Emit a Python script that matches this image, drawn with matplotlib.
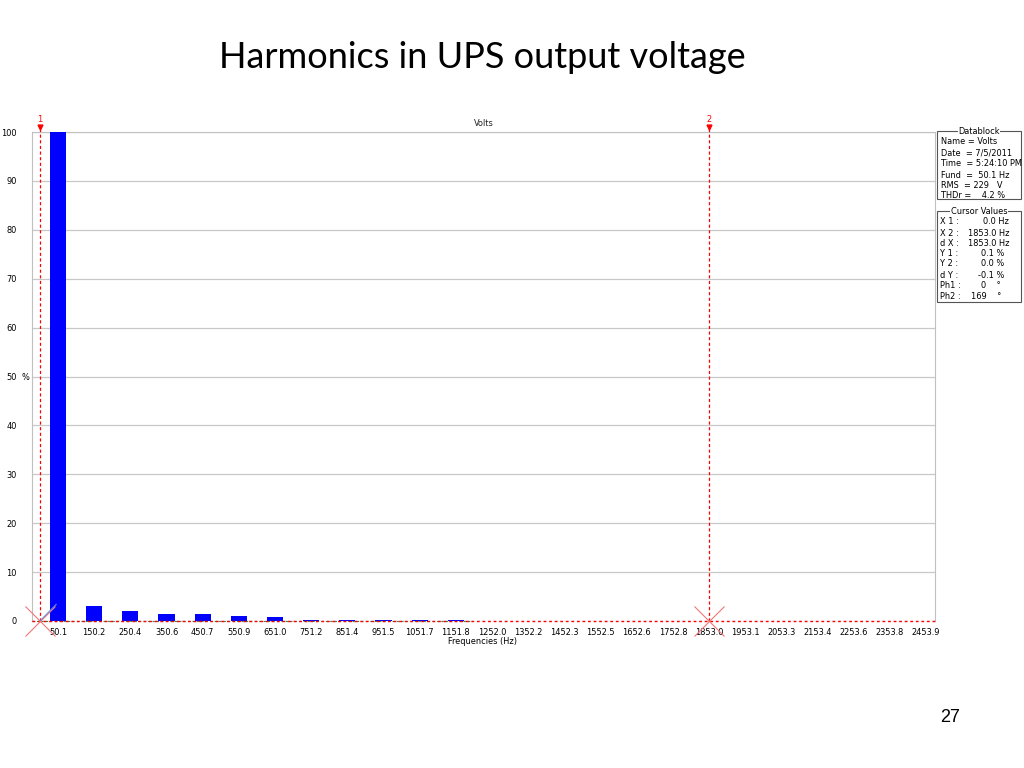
import numpy as np
import matplotlib
matplotlib.use("Agg")
import matplotlib.pyplot as plt
from matplotlib import font_manager

# spectrum (percent of fundamental)
harm_freq = [50.1, 150.2, 250.4, 350.6, 450.7, 550.9, 651.0, 751.2, 851.4, 951.5, 1051.7, 1151.8]
harm_pct = [100.0, 3.0, 2.0, 1.5, 1.4, 1.0, 0.8, 0.3, 0.3, 0.15, 0.15, 0.12]

xtick_labels = ["50.1", "150.2", "250.4", "350.6", "450.7", "550.9", "651.0", "751.2",
                "851.4", "951.5", "1051.7", "1151.8", "1252.0", "1352.2", "1452.3",
                "1552.5", "1652.6", "1752.8", "1853.0", "1953.1", "2053.3", "2153.4",
                "2253.6", "2353.8", "2453.9"]
ytick_vals = [0, 10, 20, 30, 40, 50, 60, 70, 80, 90, 100]
ytick_labels = ["0", "10", "20", "30", "40", "50", "60", "70", "80", "90", "100"]
y_unit = "%"   # shown next to the 50 label

cursor_freq = [0.0, 1853.0]
cursor_names = ["1", "2"]

datablock = ["Name = Volts", "Date  = 7/5/2011", "Time  = 5:24:10 PM",
             "Fund  =  50.1 Hz", "RMS  = 229   V", "THDr =    4.2 %"]
cursor_lbl = ["X 1 :", "X 2 :", "d X :", "Y 1 :", "Y 2 :", "d Y :", "Ph1 :", "Ph2 :"]
cursor_val = ["0.0 Hz", "1853.0 Hz", "1853.0 Hz", "0.1 %", "0.0 %", "-0.1 %", "0    °", "169    °"]

W, H = 1024, 768

# narrow font for the analyser text, if one is around
names = {f.name for f in font_manager.fontManager.ttflist}
if "Liberation Sans Narrow" in names:
    SM = dict(family=["Liberation Sans Narrow", "DejaVu Sans"], fontsize=8)
elif "DejaVu Sans Condensed" in names:
    SM = dict(family=["DejaVu Sans Condensed", "DejaVu Sans"], fontsize=6.9)
else:
    SM = dict(family=["DejaVu Sans"], fontstretch="condensed", fontsize=6.6)


def px(x, y):
    return x / W, 1 - y / H


fig = plt.figure(figsize=(10.24, 7.68), dpi=100)
ax = fig.add_axes([32 / W, 1 - 621 / H, (935 - 32) / W, (621 - 132) / H])

ax.bar(harm_freq, harm_pct, width=45, color="#0000ff", zorder=3)
ax.set_xlim(-21.9, 2478.8)
ax.set_ylim(0, 100)

ax.set_xticks([float(s) for s in xtick_labels])
ax.set_xticklabels(xtick_labels, **SM)
ax.set_yticks(ytick_vals)
ax.set_yticklabels(ytick_labels, **SM)
ax.tick_params(axis="x", length=0, pad=5)
ax.tick_params(axis="y", length=0, pad=11)
ax.yaxis.grid(True, color="#c8c8c8", lw=0.9)
ax.set_axisbelow(True)
for s in ["left", "right", "top"]:
    ax.spines[s].set_color("#c0c0c0")
ax.spines["bottom"].set_visible(False)
fig.text(*px(22, 377), y_unit, ha="left", va="center", **SM)

# baseline traces
ax.plot([-21.9, 1200], [0.1, 0.1], color="#2e8b57", lw=0.8, ls=(0, (2, 2)), zorder=4, clip_on=False)
ax.plot([-21.9, 2478.8], [0, 0], color="red", lw=1.0, ls=(0, (2, 2)), zorder=5, clip_on=False)

# cursors
for f, name in zip(cursor_freq, cursor_names):
    ax.plot([f, f], [0, 101.5], color="red", lw=0.9, ls=(0, (2.5, 2)), clip_on=False, zorder=6)
    ax.plot([f], [101.0], marker="v", color="red", ms=3.5, clip_on=False, zorder=6)
    ax.text(f, 101.6, name, color="red", ha="center", va="bottom", **SM)
    ax.plot([f], [0], marker="x", color="#f07878", ms=22, mew=0.8, clip_on=False, zorder=7)
ax.plot([0, 45], [0, 3.4], color="#6a8fd8", lw=0.8, zorder=7)

fig.text(*px(484, 123), "Volts", ha="center", va="center", color="#222222", **SM)
fig.text(*px(483, 642), "Frequencies (Hz)", ha="center", va="center", **SM)

# slide title and page number
fig.text(*px(482, 57), "Harmonics in UPS output voltage", fontsize=26, ha="center", va="center",
         family=["Lato", "DejaVu Sans"])
fig.text(*px(950, 717), "27", fontsize=13, ha="center", va="center", family=["Liberation Sans", "DejaVu Sans"])


# info boxes on the right
def info_box(top, bottom, title):
    x0, x1 = 937, 1021
    fig.add_artist(plt.Rectangle(px(x0, bottom), (x1 - x0) / W, (bottom - top) / H,
                                 fill=False, ec="#555555", lw=0.8, transform=fig.transFigure))
    fig.text(*px(979, top), title, ha="center", va="center",
             bbox=dict(fc="white", ec="none", pad=0.5), **SM)


info_box(131, 199, "Datablock")
for line, y in zip(datablock, [142, 153, 163, 175, 185, 195]):
    fig.text(*px(941, y), line, ha="left", va="center", **SM)

info_box(211, 302, "Cursor Values")
cur_y = [222, 233, 243, 254, 264, 275, 286, 296]
for lbl, val, y in zip(cursor_lbl, cursor_val, cur_y):
    fig.text(*px(940, y), lbl, ha="left", va="center", **SM)
    right = 1009 if "Hz" in val else (1004 if "%" in val else 1001)
    fig.text(*px(right, y), val, ha="right", va="center", **SM)

fig.savefig("out.png", dpi=100)
